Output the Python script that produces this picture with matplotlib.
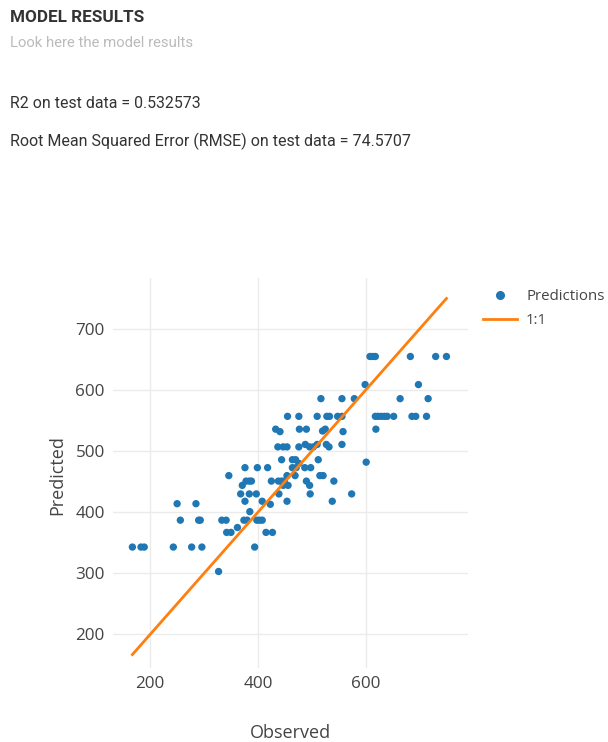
import matplotlib
matplotlib.use("Agg")
import matplotlib.pyplot as plt
from matplotlib.lines import Line2D

# ---- data ----
observed = [
    608, 613, 618, 683, 730, 750,
    599, 698,
    517, 556, 579, 664, 716,
    455, 476, 510, 528, 533, 548, 556, 618, 623, 629, 635, 640, 652, 686, 693, 713,
    433, 441, 477, 490, 520, 525, 558, 619,
    437, 447, 454, 476, 496, 503, 532, 488, 510, 527, 556,
    444, 464, 470, 512, 476, 601,
    376, 399, 418, 464, 471, 487, 498,
    346, 454, 469, 515, 521,
    371, 378, 384, 388, 425, 438, 444, 449, 447, 456, 490, 496, 541,
    368, 384, 397, 439, 497, 574,
    376, 408, 454, 538,
    423, 250, 285,
    385,
    256, 290, 293, 333, 341, 374, 380, 398, 403, 408,
    362,
    342, 350, 415, 427,
    167, 183, 189, 243, 277, 296, 394,
    327,
]
predicted = [
    655, 655, 655, 655, 655, 655,
    609, 609,
    586, 586, 586, 586, 586,
    557, 557, 557, 557, 557, 557, 557, 557, 557, 557, 557, 557, 557, 557, 557, 557,
    536, 532, 536, 536, 533, 536, 532, 536,
    507, 507, 507, 507, 507, 507, 507, 511, 511, 511, 511,
    486, 486, 486, 486, 480, 482,
    473, 473, 473, 473, 473, 473, 473,
    460, 460, 460, 460, 460,
    444, 451, 451, 451, 451, 451, 451, 451, 444, 444, 451, 444, 451,
    430, 430, 430, 430, 430, 430,
    418, 418, 418, 418,
    413, 414, 414,
    401,
    387, 387, 387, 387, 387, 387, 387, 387, 387, 387,
    375,
    367, 367, 367, 367,
    343, 343, 343, 343, 343, 343, 343,
    303,
]
title = "MODEL RESULTS"
subtitle = "Look here the model results"
r2_text = "R2 on test data = 0.532573"
rmse_text = "Root Mean Squared Error (RMSE) on test data = 74.5707"
x_ticks = [200, 400, 600]
y_ticks = [200, 300, 400, 500, 600, 700]

W, H = 608, 742
fig = plt.figure(figsize=(W / 100, H / 100), dpi=100)
fig.patch.set_facecolor("white")

fam = ["Roboto", "DejaVu Sans"]
fig.text(10 / W, 1 - 17 / H, title, fontsize=12.3, fontweight="bold",
         color="#333333", family=fam, va="center", ha="left")
fig.text(10 / W, 1 - 43 / H, subtitle, fontsize=10.7, color="#bbbbbb",
         family=fam, va="center", ha="left")
fig.text(10 / W, 1 - 103 / H, r2_text, fontsize=11.4, color="#333333",
         family=fam, va="center", ha="left")
fig.text(10 / W, 1 - 141 / H, rmse_text, fontsize=11.5, color="#333333",
         family=fam, va="center", ha="left")

left, right, top, bottom = 113, 468, 278, 668
ax = fig.add_axes([left / W, 1 - bottom / H, (right - left) / W, (bottom - top) / H])
ax.set_xlim(131, 790)
ax.set_ylim(145, 783.5)

lo, hi = min(observed), max(observed)
ax.plot([lo, hi], [lo, hi], color="#ff7f0e", lw=2, zorder=3, label="1:1")
ax.scatter(observed, predicted, s=28, color="#1f77b4", edgecolors="none",
           zorder=2, label="Predictions")

for s in ax.spines.values():
    s.set_visible(False)
ax.set_xticks(x_ticks)
ax.set_yticks(y_ticks)
ax.grid(True, color="#ebebeb", lw=1)
ax.set_axisbelow(True)
ax.tick_params(length=0, labelsize=12.3, labelcolor="#444444", pad=6)
for lab in ax.get_xticklabels() + ax.get_yticklabels():
    lab.set_family(["Open Sans", "DejaVu Sans"])

fig.text(290 / W, 1 - 733 / H, "Observed", fontsize=13, color="#444444",
         family=["Open Sans", "DejaVu Sans"], ha="center", va="center")
fig.text(57 / W, 1 - 475 / H, "Predicted", fontsize=13, color="#444444",
         family=["Open Sans", "DejaVu Sans"], ha="center", va="center",
         rotation=90)

handles = [
    Line2D([], [], marker="o", ls="none", color="#1f77b4", markersize=5.5),
    Line2D([], [], color="#ff7f0e", lw=2),
]
leg = fig.legend(handles, ["Predictions", "1:1"], loc="upper left",
                 bbox_to_anchor=(483 / W, 1 - 289 / H), frameon=False,
                 borderpad=0, borderaxespad=0,
                 handlelength=2.25, handletextpad=0.62, labelspacing=0.6,
                 prop={"family": ["Open Sans", "DejaVu Sans"], "size": 10.8})
for t in leg.get_texts():
    t.set_color("#444444")

fig.savefig("out.png", dpi=100, facecolor="white")
